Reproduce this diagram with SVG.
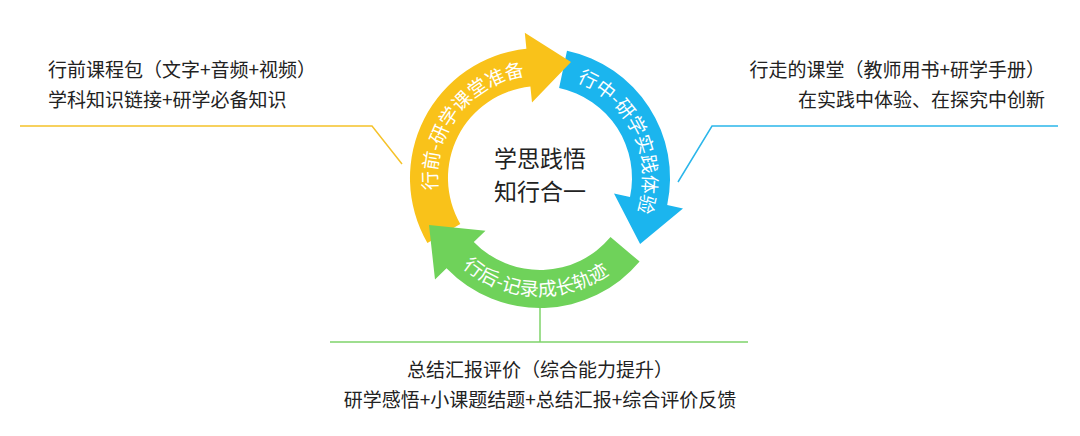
<svg xmlns="http://www.w3.org/2000/svg" width="1080" height="436" viewBox="0 0 1080 436">
<style>
.t{font-family:"Noto Sans CJK SC","Liberation Sans",sans-serif;fill:#222;font-size:19px}
.a{font-family:"Noto Sans CJK SC","Liberation Sans",sans-serif;fill:#fff;font-size:19px}
.c{font-family:"Noto Sans CJK SC","Liberation Sans",sans-serif;fill:#222;font-size:23px;text-anchor:middle}
</style>
<defs>
<path id="py" d="M443.2,213.2 A103,103 0 0 1 549,75.4"/>
<path id="pb" d="M566.7,78.5 A103,103 0 0 1 633.3,221.5"/>
<path id="pg" d="M443.3,245.7 A118,118 0 0 0 630.4,253.8"/>
</defs>
<rect width="1080" height="436" fill="#fff"/>
<g id="connectors" fill="none" stroke-width="1.5">
<polyline points="20,126 372,126 402,164" stroke="#F5C22A"/>
<polyline points="678,182 712,126 1058,126" stroke="#2BB6EA"/>
<polyline points="540,308 540,342" stroke="#7ED36A"/>
<line x1="330" y1="342" x2="748" y2="342" stroke="#7ED36A"/>
</g>
<g id="blue">
<path d="M567,50.8 A130,130 0 0 1 667.2,205 L683,208.5 L640.1,244 L614,193.5 L630,197.1 A92,92 0 0 0 559.1,88 Z" fill="#1BB5EE"/>
<text class="a"><textPath href="#pb" startOffset="50%" text-anchor="middle">行中-研学实践体验</textPath></text>
</g>
<g id="yellow">
<path d="M427.4,243 A130,130 0 0 1 526.4,48.7 L524.8,32.8 L571,62 L532,102.4 L530.4,86.5 A92,92 0 0 0 460.3,224 Z" fill="#F9C21A"/>
<text class="a"><textPath href="#py" startOffset="50%" text-anchor="middle">行前-研学课堂准备</textPath></text>
</g>
<g id="green">
<path d="M639.6,261.6 A130,130 0 0 1 446.5,268.3 L435,279.5 L429,225 L485.5,230.8 L473.8,241.9 A92,92 0 0 0 610.5,237.1 Z" fill="#6FD25A"/>
<text class="a"><textPath href="#pg" startOffset="50%" text-anchor="middle">行后-记录成长轨迹</textPath></text>
</g>
<g id="center">
<text class="c" x="540" y="167">学思践悟</text>
<text class="c" x="540" y="200">知行合一</text>
</g>
<g id="left">
<text class="t" x="48" y="77">行前课程包（文字+音频+视频）</text>
<text class="t" x="48" y="107">学科知识链接+研学必备知识</text>
</g>
<g id="right">
<text class="t" x="1045" y="77" text-anchor="end">行走的课堂（教师用书+研学手册）</text>
<text class="t" x="1045" y="107" text-anchor="end">在实践中体验、在探究中创新</text>
</g>
<g id="bottom">
<text class="t" x="540" y="377" text-anchor="middle">总结汇报评价（综合能力提升）</text>
<text class="t" x="540" y="407" text-anchor="middle">研学感悟+小课题结题+总结汇报+综合评价反馈</text>
</g>
</svg>
